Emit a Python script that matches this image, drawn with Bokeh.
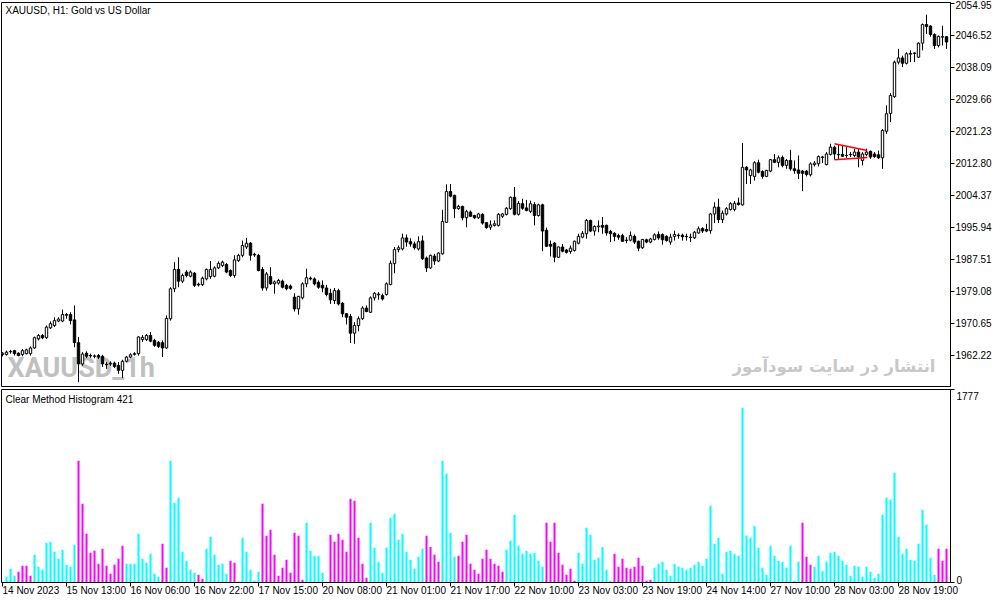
from bokeh.plotting import figure
from bokeh.layouts import column
from bokeh.models import Range1d, FixedTicker, NumeralTickFormatter, Label, ColumnDataSource
from bokeh.embed import file_html
from bokeh.resources import INLINE

# ---------------- texts ----------------
symbol_title = "XAUUSD, H1:  Gold vs US Dollar"
indicator_title = "Clear Method Histogram 421"
watermark_symbol = "XAUUSD_1h"
watermark_site = "انتشار در سایت سودآموز"

# ---------------- XAUUSD H1 candles ----------------
opens = [
    1962.5, 1962.5, 1963.2, 1963.5, 1962.8, 1962.5, 1962.7, 1962.7, 1964.2, 1966.6,
    1967.5, 1966.9, 1969.5, 1970.1, 1971.3, 1971.3, 1972.8, 1973.0, 1971.6, 1965.6,
    1960.0, 1962.8, 1962.2, 1962.0, 1962.2, 1962.0, 1959.9, 1960.0, 1960.2, 1959.6,
    1958.3, 1960.7, 1961.8, 1962.5, 1962.7, 1966.4, 1966.4, 1967.5, 1966.2, 1965.7,
    1965.6, 1964.2, 1971.9, 1979.8, 1984.9, 1981.8, 1984.2, 1983.1, 1983.9, 1980.8,
    1980.9, 1982.4, 1983.0, 1983.1, 1985.3, 1985.9, 1986.2, 1984.6, 1983.3, 1987.2,
    1988.6, 1990.8, 1991.8, 1988.9, 1988.6, 1984.9, 1980.0, 1983.0, 1981.1, 1981.3,
    1981.8, 1980.7, 1980.5, 1977.6, 1974.5, 1977.4, 1981.1, 1982.6, 1982.4, 1981.5,
    1980.7, 1980.0, 1978.6, 1976.7, 1979.3, 1976.0, 1973.2, 1972.5, 1968.1, 1970.1,
    1971.9, 1974.7, 1973.6, 1977.4, 1978.2, 1978.0, 1978.3, 1980.9, 1986.4, 1990.1,
    1990.3, 1993.2, 1992.2, 1991.6, 1990.3, 1992.4, 1987.9, 1985.3, 1988.4, 1987.1,
    1989.0, 1997.3, 2005.4, 2004.4, 2000.9, 2001.5, 1998.5, 2000.0, 1999.1, 1998.5,
    1999.4, 1997.2, 1996.0, 1996.5, 1996.5, 1998.9, 1999.4, 2000.9, 2003.9, 1999.4,
    2002.2, 2001.1, 2000.2, 2002.0, 1999.1, 2001.9, 1995.2, 1991.5, 1991.8, 1988.1,
    1990.8, 1990.0, 1989.6, 1989.9, 1991.8, 1993.4, 1994.3, 1997.8, 1995.0, 1996.1,
    1996.5, 1996.5, 1994.9, 1994.4, 1993.8, 1993.8, 1992.6, 1992.6, 1993.6, 1992.3,
    1990.6, 1992.7, 1992.1, 1992.8, 1994.1, 1994.1, 1993.6, 1992.1, 1993.6, 1993.9,
    1993.9, 1993.5, 1993.4, 1993.2, 1994.5, 1995.7, 1995.4, 1995.1, 1999.5, 2001.3,
    1998.0, 1999.5, 2000.7, 2000.7, 2002.4, 2001.9, 2011.8, 2009.6, 2009.4, 2013.0,
    2010.7, 2009.4, 2010.8, 2013.8, 2013.1, 2014.4, 2012.3, 2013.6, 2011.4, 2011.1,
    2010.8, 2010.8, 2009.8, 2012.5, 2012.7, 2014.4, 2012.5, 2015.2, 2017.1, 2015.1,
    2015.2, 2014.9, 2015.1, 2014.9, 2015.8, 2013.6, 2015.2, 2016.0, 2015.3, 2015.1,
    2014.3, 2021.3, 2026.0, 2030.4, 2039.5, 2040.6, 2039.2, 2041.6, 2041.8, 2040.8,
    2044.5, 2049.4, 2049.0, 2046.8, 2043.9, 2046.1, 2046.2,
]
highs = [
    1963.1, 1963.5, 1963.7, 1963.7, 1963.1, 1963.9, 1964.0, 1964.6, 1967.2, 1967.9,
    1967.9, 1970.1, 1971.2, 1972.3, 1972.3, 1974.3, 1973.4, 1973.6, 1975.4, 1967.1,
    1963.1, 1963.3, 1962.7, 1962.5, 1962.6, 1962.4, 1960.5, 1960.7, 1960.6, 1960.5,
    1961.1, 1962.1, 1962.8, 1963.1, 1967.3, 1967.6, 1967.9, 1968.4, 1966.6, 1966.0,
    1966.2, 1972.8, 1980.2, 1986.8, 1988.1, 1983.8, 1984.7, 1984.6, 1984.2, 1981.4,
    1983.0, 1985.1, 1987.1, 1985.7, 1987.0, 1987.2, 1986.6, 1984.9, 1988.6, 1989.0,
    1992.5, 1993.2, 1992.1, 1989.3, 1989.0, 1985.5, 1984.2, 1985.5, 1982.0, 1982.4,
    1982.2, 1981.1, 1980.9, 1978.6, 1977.9, 1981.5, 1985.1, 1983.0, 1982.8, 1982.0,
    1982.0, 1980.8, 1979.8, 1980.0, 1979.8, 1976.3, 1973.4, 1973.2, 1971.0, 1972.5,
    1975.2, 1975.4, 1977.8, 1978.9, 1978.9, 1978.5, 1981.5, 1987.2, 1990.8, 1991.2,
    1994.3, 1994.1, 1993.1, 1992.2, 1993.6, 1993.8, 1988.3, 1988.8, 1989.0, 1989.4,
    2000.6, 2007.3, 2007.4, 2004.6, 2001.9, 2001.7, 2000.6, 2000.4, 1999.3, 1999.8,
    1999.7, 1997.3, 1997.8, 1997.8, 1999.7, 1999.7, 2001.3, 2004.1, 2006.6, 2002.9,
    2003.5, 2003.2, 2003.0, 2002.6, 2002.2, 2002.2, 1995.9, 1992.5, 1992.1, 1990.9,
    1991.6, 1990.3, 1991.2, 1992.5, 1994.3, 1995.0, 1998.2, 1998.0, 1996.5, 1997.8,
    1998.7, 1996.7, 1995.3, 1994.7, 1994.3, 1994.3, 1993.4, 1994.9, 1994.1, 1992.5,
    1992.9, 1993.0, 1993.2, 1994.4, 1994.9, 1994.4, 1993.9, 1994.3, 1995.1, 1994.4,
    1994.3, 1994.3, 1994.3, 1995.0, 1996.2, 1996.0, 1996.9, 1999.8, 2002.6, 2003.5,
    2000.4, 2001.3, 2002.6, 2002.9, 2003.8, 2018.2, 2012.1, 2011.4, 2013.4, 2013.8,
    2011.0, 2011.1, 2014.0, 2015.3, 2014.9, 2014.9, 2014.0, 2016.4, 2013.6, 2014.9,
    2011.1, 2011.1, 2013.1, 2013.4, 2014.9, 2014.8, 2015.8, 2018.0, 2017.5, 2017.8,
    2017.5, 2017.1, 2015.8, 2016.7, 2016.7, 2015.8, 2016.7, 2016.2, 2015.8, 2016.2,
    2021.9, 2028.1, 2031.3, 2039.9, 2043.0, 2041.2, 2042.1, 2042.6, 2042.1, 2044.7,
    2049.7, 2052.0, 2049.2, 2047.1, 2046.5, 2049.1, 2046.4,
]
lows = [
    1962.0, 1962.2, 1962.7, 1962.2, 1962.0, 1962.0, 1962.5, 1962.2, 1964.0, 1966.2,
    1966.5, 1966.6, 1969.2, 1969.7, 1971.0, 1971.0, 1971.9, 1970.4, 1964.4, 1955.2,
    1959.5, 1961.5, 1961.6, 1961.5, 1961.3, 1959.2, 1958.7, 1959.5, 1958.9, 1957.4,
    1956.3, 1960.4, 1961.5, 1962.2, 1962.2, 1965.8, 1966.0, 1965.7, 1964.5, 1964.2,
    1961.8, 1964.0, 1971.4, 1978.9, 1980.2, 1981.3, 1982.8, 1982.8, 1980.3, 1980.4,
    1980.5, 1982.0, 1982.4, 1982.8, 1985.0, 1985.5, 1983.9, 1982.9, 1982.7, 1986.9,
    1988.1, 1990.3, 1987.2, 1988.2, 1984.4, 1979.3, 1979.3, 1980.8, 1978.5, 1980.9,
    1979.9, 1979.4, 1979.5, 1973.8, 1973.0, 1977.0, 1980.2, 1982.0, 1980.7, 1979.8,
    1978.9, 1977.8, 1975.8, 1975.8, 1975.4, 1972.3, 1970.4, 1965.5, 1965.3, 1968.6,
    1971.6, 1973.6, 1973.4, 1976.7, 1976.9, 1976.7, 1978.0, 1980.7, 1983.9, 1989.4,
    1989.9, 1990.9, 1990.9, 1990.1, 1989.9, 1987.4, 1984.2, 1985.0, 1986.1, 1986.8,
    1988.8, 1997.1, 2003.9, 1998.4, 2000.6, 1997.8, 1996.0, 1998.7, 1998.2, 1998.2,
    1996.7, 1995.6, 1995.3, 1996.2, 1996.2, 1998.5, 1999.1, 2000.6, 1999.1, 1999.1,
    2000.6, 2000.2, 1999.7, 1996.5, 1998.8, 1989.7, 1990.8, 1988.3, 1986.8, 1987.9,
    1989.4, 1989.1, 1989.0, 1989.6, 1991.5, 1993.1, 1993.0, 1994.7, 1993.8, 1994.7,
    1994.3, 1993.8, 1992.1, 1992.3, 1992.7, 1992.1, 1991.8, 1992.3, 1991.6, 1989.7,
    1990.3, 1991.8, 1991.8, 1992.5, 1992.7, 1991.4, 1992.2, 1991.4, 1992.5, 1993.0,
    1992.5, 1992.5, 1992.1, 1992.9, 1994.3, 1994.5, 1994.7, 1994.3, 1997.1, 1997.1,
    1997.1, 1999.1, 2000.4, 2000.2, 2001.7, 2001.7, 2007.4, 2007.4, 2008.3, 2010.2,
    2008.8, 2009.2, 2010.5, 2012.9, 2011.8, 2011.8, 2011.4, 2010.9, 2010.1, 2008.7,
    2005.5, 2009.4, 2009.4, 2012.0, 2012.0, 2012.9, 2012.3, 2014.9, 2013.8, 2014.0,
    2014.5, 2014.3, 2014.5, 2014.5, 2011.8, 2012.3, 2014.7, 2014.0, 2014.3, 2014.0,
    2011.4, 2020.6, 2023.7, 2030.1, 2038.9, 2038.2, 2038.9, 2039.5, 2039.5, 2040.6,
    2042.6, 2046.9, 2046.2, 2043.0, 2043.4, 2043.9, 2043.0,
]
closes = [
    1962.8, 1963.1, 1963.3, 1962.7, 1962.2, 1963.5, 1963.7, 1964.2, 1966.9, 1967.5,
    1966.9, 1969.7, 1970.6, 1971.4, 1971.8, 1973.0, 1973.0, 1971.4, 1965.6, 1960.0,
    1962.6, 1962.0, 1962.1, 1962.1, 1961.8, 1960.0, 1959.8, 1960.2, 1959.3, 1958.3,
    1960.7, 1961.8, 1962.4, 1962.7, 1967.1, 1967.0, 1967.5, 1966.0, 1964.9, 1964.6,
    1964.2, 1972.0, 1979.8, 1984.9, 1981.8, 1983.3, 1983.3, 1984.2, 1980.7, 1981.0,
    1982.6, 1984.9, 1984.9, 1985.3, 1986.5, 1986.8, 1984.2, 1983.3, 1987.4, 1988.6,
    1991.2, 1991.8, 1988.6, 1988.7, 1984.6, 1980.0, 1983.7, 1981.1, 1981.6, 1982.0,
    1980.2, 1979.8, 1979.9, 1974.5, 1977.8, 1981.1, 1982.7, 1982.4, 1981.1, 1980.2,
    1980.0, 1978.3, 1976.9, 1979.3, 1975.8, 1973.2, 1972.3, 1968.1, 1970.1, 1971.9,
    1974.7, 1973.8, 1977.4, 1978.6, 1978.4, 1977.1, 1981.1, 1986.5, 1990.1, 1990.6,
    1993.2, 1992.1, 1991.6, 1990.6, 1992.2, 1987.7, 1985.3, 1988.6, 1987.1, 1989.2,
    1997.5, 2005.4, 2004.2, 2000.9, 2001.5, 1998.5, 2000.1, 1998.9, 1998.5, 1999.5,
    1997.1, 1995.9, 1996.6, 1996.9, 1999.4, 1999.5, 2001.0, 2003.9, 1999.4, 2002.3,
    2001.0, 2000.4, 2002.2, 1999.1, 2001.9, 1995.0, 1991.0, 1991.0, 1988.1, 1990.8,
    1989.7, 1989.4, 1990.5, 1992.3, 1993.6, 1994.4, 1997.8, 1995.0, 1996.2, 1996.3,
    1996.0, 1994.5, 1994.3, 1993.6, 1993.4, 1992.3, 1992.5, 1993.8, 1992.1, 1990.5,
    1992.8, 1992.1, 1992.9, 1994.0, 1993.2, 1992.7, 1992.5, 1993.4, 1994.1, 1993.8,
    1993.5, 1993.6, 1993.3, 1994.7, 1995.6, 1995.0, 1995.0, 1999.5, 2001.3, 1998.0,
    1999.7, 2000.9, 2002.2, 2002.3, 2002.0, 2011.8, 2011.1, 2011.1, 2013.0, 2010.5,
    2009.4, 2011.0, 2013.8, 2013.1, 2014.3, 2012.3, 2013.6, 2011.4, 2010.9, 2010.2,
    2010.2, 2009.9, 2012.7, 2012.9, 2014.6, 2014.5, 2015.3, 2017.1, 2015.3, 2015.2,
    2014.7, 2014.9, 2015.2, 2015.8, 2014.5, 2015.3, 2015.8, 2014.5, 2014.6, 2014.3,
    2021.5, 2025.9, 2030.7, 2039.5, 2040.6, 2039.2, 2041.7, 2041.8, 2041.9, 2044.5,
    2049.4, 2048.9, 2046.8, 2043.9, 2046.3, 2046.2, 2044.8,
]

# ---------------- Clear Method Histogram values ----------------
hist_values = [
    0, 52, 126, 61, 98, 154, 154, 61, 255, 144,
    120, 365, 375, 282, 218, 301, 163, 144, 347, 1121,
    725, 448, 273, 292, 172, 310, 154, 80, 163, 218,
    338, 172, 172, 172, 448, 218, 181, 264, 80, 52,
    356, 135, 1121, 734, 780, 282, 200, 117, 89, 71,
    34, 310, 421, 255, 163, 172, 80, 200, 181, 6,
    411, 282, 117, 15, 98, 725, 430, 485, 255, 61,
    135, 209, 89, 457, 430, 25, 550, 292, 246, 246,
    89, 6, 440, 375, 448, 393, 282, 771, 752, 411,
    172, 43, 550, 319, 190, 89, 319, 596, 632, 393,
    448, 282, 209, 126, 236, 310, 430, 328, 255, 190,
    1121, 1001, 457, 236, 246, 375, 439, 172, 117, 80,
    218, 301, 218, 172, 154, 98, 301, 384, 623, 338,
    264, 292, 264, 273, 200, 144, 550, 375, 550, 273,
    163, 71, 126, 15, 273, 172, 503, 439, 209, 227,
    328, 117, 15, 264, 144, 218, 135, 126, 144, 227,
    154, 15, 25, 135, 172, 190, 117, 61, 172, 144,
    135, 117, 135, 163, 190, 154, 218, 706, 356, 411,
    80, 282, 292, 264, 246, 1609, 433, 415, 522, 319,
    135, 71, 338, 246, 200, 190, 135, 338, 15, 190,
    550, 236, 163, 144, 246, 107, 190, 273, 282, 246,
    200, 163, 61, 154, 144, 52, 144, 98, 43, 80,
    623, 780, 761, 1010, 421, 264, 310, 209, 200, 356,
    669, 531, 227, 71, 310, 200, 310,
]
# U = rising state (aqua), D = falling state (magenta)
hist_trend = "".join([
    "UUUUDDDDUU", "UUUUUUUUUD", "DDDDDDDDDD", "DUUUUUUUUU", "DDUUUUUUUD",
    "DUUUUUUDDD", "UUUUUDDDDD", "DDDDDDUUUU", "UUDDDDDDDD", "DDUUUUUUUU",
    "UUUUUUDDDD", "UUUUDDDDDD", "DDDDDDUUUU", "UUUUUUDDDD", "DDDDUUUUUU",
    "UUUDDDDDDD", "DDDUUUUUUU", "UUUUUUUUUU", "UUUUUUUUUU", "UUUUUUUUUU",
    "DDDUUUUUUU", "UUUUUUUUUU", "UUUUUUUUUU", "UUUUDDD",
])

# ---------------- axes ----------------
time_tick_index = [0, 16, 32, 48, 64, 80, 96, 112, 128, 144, 160, 176, 192, 208, 224]
time_tick_labels = ["14 Nov 2023", "15 Nov 13:00", "16 Nov 06:00", "16 Nov 22:00",
                    "17 Nov 15:00", "20 Nov 08:00", "21 Nov 01:00", "21 Nov 17:00",
                    "22 Nov 10:00", "23 Nov 03:00", "23 Nov 19:00", "24 Nov 14:00",
                    "27 Nov 10:00", "28 Nov 03:00", "28 Nov 19:00"]
price_ticks = [1962.22, 1970.65, 1979.08, 1987.51, 1995.94, 2004.37,
               2012.80, 2021.23, 2029.66, 2038.09, 2046.52, 2054.95]
hist_ticks = [0, 1777]
price_range = [1954.05, 2055.21]

# red consolidation pattern drawn on the chart
pattern_x = [208, 216.2]
pattern_upper = [2018.0, 2016.2]
pattern_lower = [2013.8, 2014.4]

# ---------------- build ----------------
n = len(closes)
for arr in (opens, highs, lows, hist_values, hist_trend):
    assert len(arr) == n, len(arr)

FONT = "Liberation Sans"
AQUA, MAGENTA = "#00FFFF", "#FF00FF"
FRAME_W = 949
x_start, x_end = -0.25, n

candles = ColumnDataSource(dict(
    x=list(range(n)), high=highs, low=lows,
    top=[max(o, c) for o, c in zip(opens, closes)],
    bottom=[min(o, c) for o, c in zip(opens, closes)],
    fill=["white" if c >= o else "black" for o, c in zip(opens, closes)],
))
hist_src = ColumnDataSource(dict(
    x=list(range(n)), value=hist_values,
    color=[AQUA if t == "U" else MAGENTA for t in hist_trend],
))


def style_axis(ax):
    ax.axis_line_color = "black"
    ax.major_tick_line_color = "black"
    ax.major_tick_out = 4
    ax.major_tick_in = 0
    ax.minor_tick_line_color = None
    ax.major_label_standoff = 2
    ax.major_label_text_font = FONT
    ax.major_label_text_font_size = "10px"
    ax.major_label_text_color = "black"


# ---- price panel ----
p = figure(frame_width=FRAME_W, frame_height=384,
           x_range=Range1d(x_start, x_end), y_range=Range1d(*price_range),
           output_backend="svg", toolbar_location=None,
           x_axis_location=None, y_axis_location="right",
           min_border_left=1, min_border_right=0, min_border_top=2, min_border_bottom=1,
           outline_line_color="black", background_fill_color="white",
           border_fill_color="white")
p.grid.grid_line_color = None
ya = p.yaxis[0]
style_axis(ya)
ya.major_label_standoff = 1
ya.ticker = FixedTicker(ticks=price_ticks)
ya.formatter = NumeralTickFormatter(format="0.00")

p.add_layout(Label(x=x_start, y=price_range[0], x_offset=6, y_offset=3,
                   text=watermark_symbol, text_font="Roboto",
                   text_font_style="bold", text_font_size="27px",
                   text_color="#c0c0c0", text_baseline="bottom", level="underlay"))
p.add_layout(Label(x=x_end, y=price_range[0], x_offset=-15, y_offset=11,
                   text=watermark_site, text_font="DejaVu Sans",
                   text_font_style="bold", text_font_size="16.5px",
                   text_color="#c8c8c8", text_align="right",
                   text_baseline="bottom", level="underlay"))

p.segment(x0="x", y0="low", x1="x", y1="high", source=candles,
          line_color="black", line_width=1)
p.vbar(x="x", width=0.6, top="top", bottom="bottom", source=candles,
       fill_color="fill", line_color="black", line_width=1)
p.line(pattern_x, pattern_upper, line_color="#ff0000", line_width=1.5)
p.line(pattern_x, pattern_lower, line_color="#ff0000", line_width=1.5)

p.add_layout(Label(x=x_start, y=price_range[1], x_offset=4, y_offset=-2,
                   text=symbol_title, text_font=FONT, text_font_size="10px",
                   text_color="black", text_baseline="top"))

# ---- histogram panel ----
h = figure(frame_width=FRAME_W, frame_height=193,
           x_range=p.x_range, y_range=Range1d(hist_ticks[0], hist_ticks[-1]),
           output_backend="svg", toolbar_location=None,
           y_axis_location="right",
           min_border_left=1, min_border_right=0, min_border_top=2, min_border_bottom=0,
           outline_line_color="black", background_fill_color="white",
           border_fill_color="white")
h.grid.grid_line_color = None
h.vbar(x="x", width=0.5, top="value", bottom=0, source=hist_src,
       fill_color="color", line_color=None)

# time axis: labels start at their tick (terminal style) -> tiny negative
# orientation makes Bokeh left-align the labels
xa = h.xaxis[0]
style_axis(xa)
xa.ticker = FixedTicker(ticks=time_tick_index)
xa.major_label_overrides = dict(zip(time_tick_index, time_tick_labels))
xa.major_label_orientation = -0.0001
xa.major_label_standoff = 4

hy = h.yaxis[0]
style_axis(hy)
hy.ticker = FixedTicker(ticks=hist_ticks)
hy.major_label_text_line_height = 0.35
hy.major_label_overrides = {hist_ticks[0]: str(hist_ticks[0]) + "\n",
                            hist_ticks[-1]: "\n" + str(hist_ticks[-1])}

h.add_layout(Label(x=x_start, y=hist_ticks[-1], x_offset=4, y_offset=-4,
                   text=indicator_title, text_font=FONT, text_font_size="10px",
                   text_color="black", text_baseline="top"))

layout = column(p, h, spacing=0)
open("out.html", "w").write(file_html(layout, INLINE))
